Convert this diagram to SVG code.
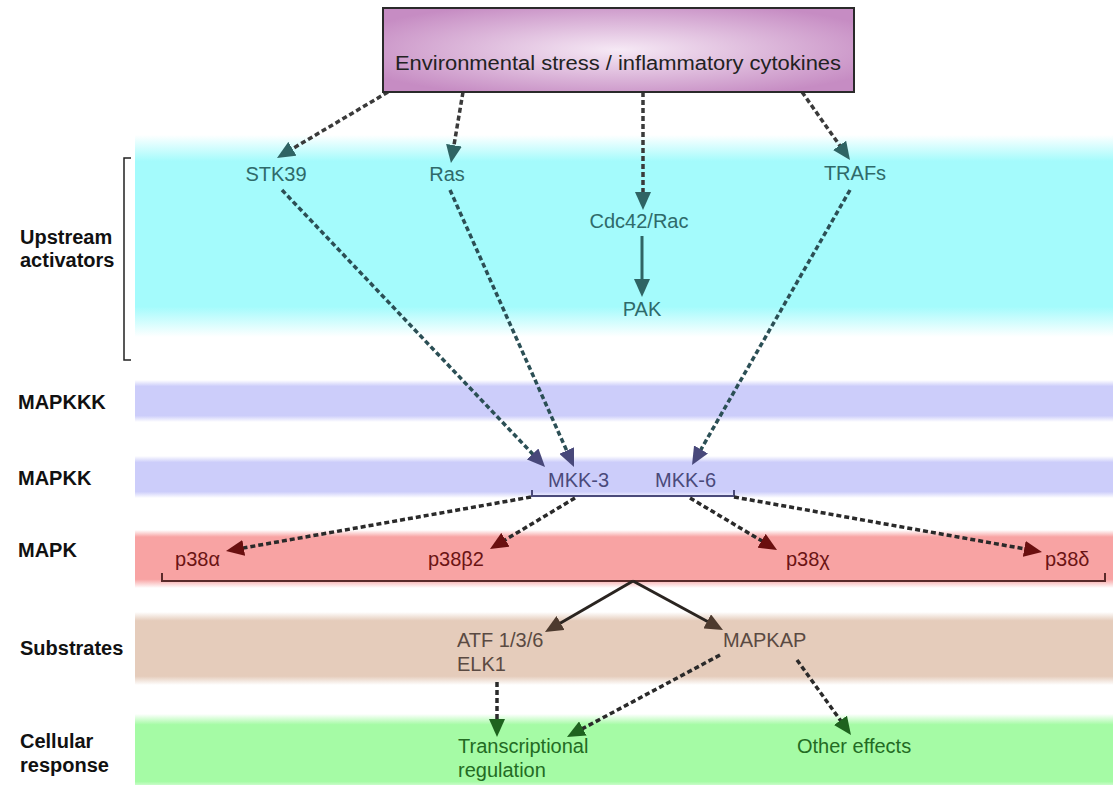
<svg xmlns="http://www.w3.org/2000/svg" width="1113" height="785" viewBox="0 0 1113 785">
<defs>
<style>
.lbl{font-family:"Liberation Sans",Arial,sans-serif;font-size:20px;font-weight:bold;fill:#111}
.nd{font-family:"Liberation Sans",Arial,sans-serif;font-size:20px}
.teal{fill:#2f6a6a}
.slate{fill:#4a4a7a}
.red{fill:#6b1414}
.brown{fill:#5a4a42}
.green{fill:#236b23}
.dash{fill:none;stroke-width:3.5;stroke-dasharray:5 3}
.solid{fill:none;stroke-width:3}
</style>
<radialGradient id="boxg" cx="0.5" cy="0.5" r="0.6">
<stop offset="0" stop-color="#f6e9f5"/>
<stop offset="1" stop-color="#c68cc3"/>
</radialGradient>
<linearGradient id="gCyan" x1="0" y1="0" x2="0" y2="1">
<stop offset="0" stop-color="#a4fbfc" stop-opacity="0"/>
<stop offset="0.13" stop-color="#a4fbfc"/>
<stop offset="0.85" stop-color="#a4fbfc"/>
<stop offset="1" stop-color="#a4fbfc" stop-opacity="0"/>
</linearGradient>
<linearGradient id="gBlue" x1="0" y1="0" x2="0" y2="1">
<stop offset="0" stop-color="#cccdfa" stop-opacity="0"/>
<stop offset="0.15" stop-color="#cccdfa"/>
<stop offset="0.85" stop-color="#cccdfa"/>
<stop offset="1" stop-color="#cccdfa" stop-opacity="0"/>
</linearGradient>
<linearGradient id="gRed" x1="0" y1="0" x2="0" y2="1">
<stop offset="0" stop-color="#f8a3a3" stop-opacity="0"/>
<stop offset="0.12" stop-color="#f8a3a3"/>
<stop offset="0.85" stop-color="#f8a3a3"/>
<stop offset="1" stop-color="#f8a3a3" stop-opacity="0"/>
</linearGradient>
<linearGradient id="gBrown" x1="0" y1="0" x2="0" y2="1">
<stop offset="0" stop-color="#e5ccbb" stop-opacity="0"/>
<stop offset="0.12" stop-color="#e5ccbb"/>
<stop offset="0.88" stop-color="#e5ccbb"/>
<stop offset="1" stop-color="#e5ccbb" stop-opacity="0"/>
</linearGradient>
<linearGradient id="gGreen" x1="0" y1="0" x2="0" y2="1">
<stop offset="0" stop-color="#a5fba5" stop-opacity="0"/>
<stop offset="0.15" stop-color="#a5fba5"/>
<stop offset="0.95" stop-color="#a5fba5"/>
<stop offset="1" stop-color="#a5fba5" stop-opacity="0.6"/>
</linearGradient>
<marker id="aTeal" markerUnits="userSpaceOnUse" markerWidth="18" markerHeight="16" refX="4" refY="8" orient="auto"><path d="M0,0 L18,8 L0,16 z" fill="#2f6464"/></marker>
<marker id="aSlate" markerUnits="userSpaceOnUse" markerWidth="18" markerHeight="16" refX="4" refY="8" orient="auto"><path d="M0,0 L18,8 L0,16 z" fill="#48487a"/></marker>
<marker id="aRed" markerUnits="userSpaceOnUse" markerWidth="18" markerHeight="16" refX="4" refY="8" orient="auto"><path d="M0,0 L18,8 L0,16 z" fill="#6a0f0f"/></marker>
<marker id="aBrown" markerUnits="userSpaceOnUse" markerWidth="18" markerHeight="16" refX="4" refY="8" orient="auto"><path d="M0,0 L18,8 L0,16 z" fill="#4d3a2e"/></marker>
<marker id="aGreen" markerUnits="userSpaceOnUse" markerWidth="18" markerHeight="16" refX="4" refY="8" orient="auto"><path d="M0,0 L18,8 L0,16 z" fill="#1e631e"/></marker>
</defs>
<rect width="1113" height="785" fill="#ffffff"/>
<g id="bands">
<rect x="135" y="135" width="978" height="202" fill="url(#gCyan)"/>
<rect x="135" y="380" width="978" height="42" fill="url(#gBlue)"/>
<rect x="135" y="456" width="978" height="42" fill="url(#gBlue)"/>
<rect x="135" y="530" width="978" height="58" fill="url(#gRed)"/>
<rect x="135" y="612" width="978" height="73" fill="url(#gBrown)"/>
<rect x="135" y="714" width="978" height="71" fill="url(#gGreen)"/>
</g>
<g id="labels">
<text class="lbl" x="20" y="244">Upstream</text>
<text class="lbl" x="20" y="267">activators</text>
<path d="M131,158 H124 V360 H131" fill="none" stroke="#222" stroke-width="1.5"/>
<text class="lbl" x="18" y="409">MAPKKK</text>
<text class="lbl" x="18" y="485">MAPKK</text>
<text class="lbl" x="18" y="557">MAPK</text>
<text class="lbl" x="20" y="655">Substrates</text>
<text class="lbl" x="20" y="748">Cellular</text>
<text class="lbl" x="20" y="772">response</text>
</g>
<g id="connectors">
<line class="dash" x1="388" y1="92" x2="289" y2="150.8" stroke="#3a3a3a" marker-end="url(#aTeal)"/>
<line class="dash" x1="463" y1="92" x2="453.3" y2="149.2" stroke="#3a3a3a" marker-end="url(#aTeal)"/>
<line class="dash" x1="643" y1="92" x2="643" y2="196" stroke="#3a3a3a" marker-end="url(#aTeal)"/>
<line class="dash" x1="802" y1="92" x2="841.9" y2="148.6" stroke="#3a3a3a" marker-end="url(#aTeal)"/>
<line class="solid" x1="642" y1="236" x2="642" y2="283" stroke="#2f6464" marker-end="url(#aTeal)"/>
<line class="dash" x1="282" y1="190" x2="535.4" y2="456.9" stroke="#2b4f55" marker-end="url(#aSlate)"/>
<line class="dash" x1="450" y1="190" x2="568.3" y2="454.2" stroke="#2b4f55" marker-end="url(#aSlate)"/>
<line class="dash" x1="850" y1="190" x2="699" y2="452.9" stroke="#2b4f55" marker-end="url(#aSlate)"/>
<path d="M532,490 V496 H734 V490" fill="none" stroke="#4a4a7a" stroke-width="2"/>
<line class="dash" x1="531" y1="497" x2="239.8" y2="548.6" stroke="#2a2a2a" marker-end="url(#aRed)"/>
<line class="dash" x1="575" y1="498" x2="502" y2="541.8" stroke="#2a2a2a" marker-end="url(#aRed)"/>
<line class="dash" x1="690" y1="498" x2="765" y2="542.8" stroke="#2a2a2a" marker-end="url(#aRed)"/>
<line class="dash" x1="734" y1="497" x2="1028.2" y2="549.5" stroke="#2a2a2a" marker-end="url(#aRed)"/>
<path d="M162,573 V581 H1105 V573" fill="none" stroke="#5a2a2a" stroke-width="2"/>
<line class="solid" x1="633" y1="581" x2="557.1" y2="625" stroke="#2a2420" marker-end="url(#aBrown)"/>
<line class="solid" x1="633" y1="581" x2="710.7" y2="623.3" stroke="#2a2420" marker-end="url(#aBrown)"/>
<line class="dash" x1="497" y1="682" x2="497" y2="723" stroke="#2a2a2a" marker-end="url(#aGreen)"/>
<line class="dash" x1="720" y1="655" x2="579.3" y2="730.4" stroke="#2a2a2a" marker-end="url(#aGreen)"/>
<line class="dash" x1="797" y1="660" x2="842.8" y2="723.6" stroke="#2a2a2a" marker-end="url(#aGreen)"/>
</g>
<g id="stimulus">
<rect x="383" y="8" width="471" height="84" fill="url(#boxg)" stroke="#2a2a2a" stroke-width="2"/>
<text class="nd" x="618" y="70" text-anchor="middle" fill="#222" font-size="22.5" textLength="446" lengthAdjust="spacingAndGlyphs">Environmental stress / inflammatory cytokines</text>
</g>
<g id="stk39"><text class="nd teal" x="276" y="181" text-anchor="middle">STK39</text></g>
<g id="ras"><text class="nd teal" x="447" y="181" text-anchor="middle">Ras</text></g>
<g id="cdc42"><text class="nd teal" x="639" y="228" text-anchor="middle">Cdc42/Rac</text></g>
<g id="pak"><text class="nd teal" x="642" y="316" text-anchor="middle">PAK</text></g>
<g id="trafs"><text class="nd teal" x="855" y="180" text-anchor="middle">TRAFs</text></g>
<g id="mkk3"><text class="nd slate" x="548" y="487">MKK-3</text></g>
<g id="mkk6"><text class="nd slate" x="655" y="487">MKK-6</text></g>
<g id="p38a"><text class="nd red" x="220" y="566" text-anchor="end">p38α</text></g>
<g id="p38b2"><text class="nd red" x="428" y="566">p38β2</text></g>
<g id="p38g"><text class="nd red" x="786" y="566">p38χ</text></g>
<g id="p38d"><text class="nd red" x="1045" y="566">p38δ</text></g>
<g id="atf"><text class="nd brown" x="457" y="647">ATF 1/3/6</text><text class="nd brown" x="457" y="671">ELK1</text></g>
<g id="mapkap"><text class="nd brown" x="723" y="647">MAPKAP</text></g>
<g id="transcr"><text class="nd green" x="458" y="753">Transcriptional</text><text class="nd green" x="458" y="777">regulation</text></g>
<g id="other"><text class="nd green" x="797" y="753">Other effects</text></g>
</svg>
